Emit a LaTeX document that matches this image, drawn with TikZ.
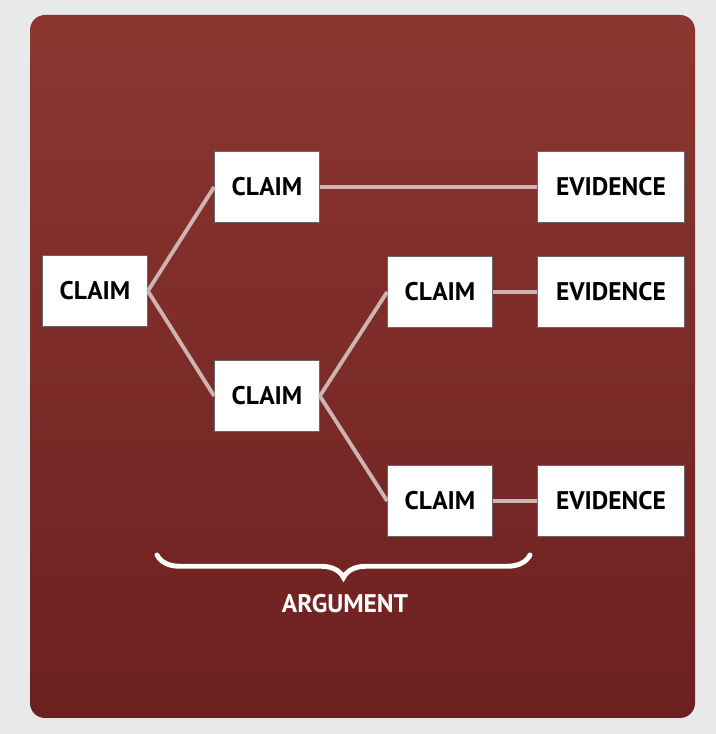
\documentclass[tikz,border=0pt]{standalone}
\usepackage{fontspec}
\setmainfont{PT Sans}
\usetikzlibrary{decorations.pathreplacing}

\definecolor{panelTop}{RGB}{140,54,48}
\definecolor{panelBot}{RGB}{108,32,32}
\definecolor{pageGrey}{RGB}{232,234,234}
\definecolor{linkGrey}{RGB}{205,180,178}

\tikzset{
    box/.style={draw=black!60, line width=0.4pt, fill=white, minimum width=2.1cm,
        minimum height=1.42cm, inner sep=0pt, font=\bfseries\fontsize{14.5}{16}\selectfont},
    evbox/.style={box, minimum width=2.94cm},
    link/.style={draw=linkGrey, line width=2.2pt},
}

\begin{document}
\begin{tikzpicture}
\fill[pageGrey] (0,0) rectangle (14.32,14.68);
\useasboundingbox (0,0) rectangle (14.32,14.68);
\shade[top color=panelTop, bottom color=panelBot, rounded corners=0.3cm]
    (0.60,0.32) rectangle (13.90,14.38);

\node[box] (root) at (1.90, 8.86) {CLAIM};
\node[box] (claimA) at (5.34, 10.94) {CLAIM};
\node[evbox] (evA) at (12.22, 10.94) {EVIDENCE};
\node[box] (claimB) at (5.34, 6.76) {CLAIM};
\node[box] (claimBa) at (8.80, 8.84) {CLAIM};
\node[evbox] (evBa) at (12.22, 8.84) {EVIDENCE};
\node[box] (claimBb) at (8.80, 4.66) {CLAIM};
\node[evbox] (evBb) at (12.22, 4.66) {EVIDENCE};

\draw[link] (root.east) -- (claimA.west);
\draw[link] (root.east) -- (claimB.west);
\draw[link] (claimA.east) -- (evA.west);
\draw[link] (claimB.east) -- (claimBa.west);
\draw[link] (claimB.east) -- (claimBb.west);
\draw[link] (claimBa.east) -- (evBa.west);
\draw[link] (claimBb.east) -- (evBb.west);

\coordinate (braceL) at (3.14, 3.58);
\coordinate (braceR) at (10.60, 3.58);
\draw[white, line width=2.8pt, line cap=round,
    decorate, decoration={brace, mirror, amplitude=0.45cm}] (braceL) -- (braceR);
\node[white, font=\bfseries\fontsize{14.5}{16}\selectfont] (arg) at (6.90, 2.60) {ARGUMENT};

\end{tikzpicture}
\end{document}
